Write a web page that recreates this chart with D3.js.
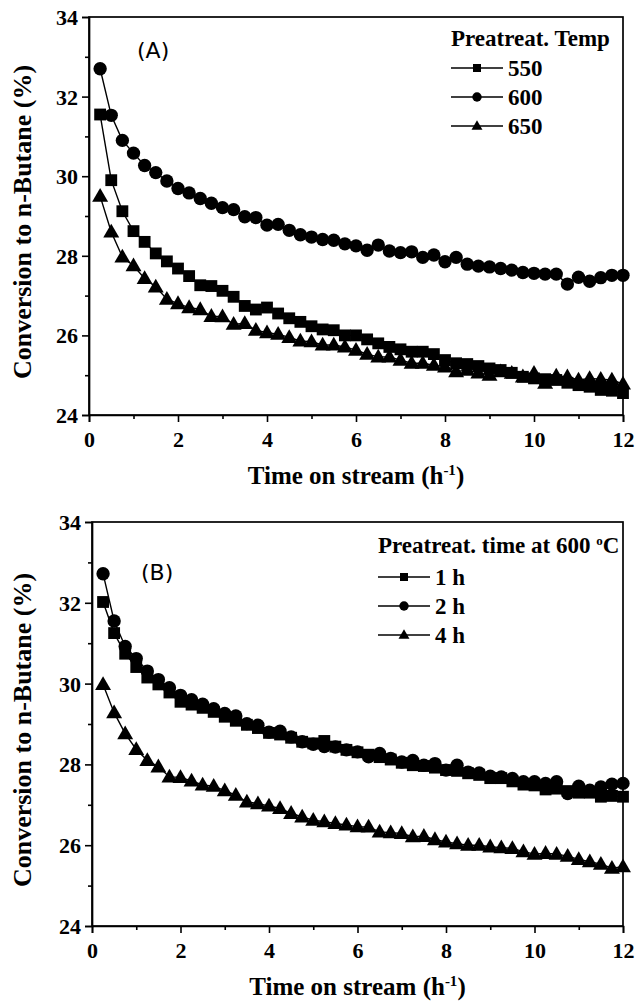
<!DOCTYPE html>
<html>
<head>
<meta charset="utf-8">
<script src="https://cdn.jsdelivr.net/npm/d3@7"></script>
<style>
  html, body { margin: 0; padding: 0; background: #fff; }
  svg { display: block; }
</style>
</head>
<body>
<svg id="chart" width="635" height="1004"></svg>
<script>
// ---------------- DATA ----------------
const timeH = [0.25, 0.5, 0.75, 1.0, 1.25, 1.5, 1.75, 2.0, 2.25, 2.5, 2.75, 3.0,
  3.25, 3.5, 3.75, 4.0, 4.25, 4.5, 4.75, 5.0, 5.25, 5.5, 5.75, 6.0,
  6.25, 6.5, 6.75, 7.0, 7.25, 7.5, 7.75, 8.0, 8.25, 8.5, 8.75, 9.0,
  9.25, 9.5, 9.75, 10.0, 10.25, 10.5, 10.75, 11.0, 11.25, 11.5, 11.75, 12.0];

// Panel A : pretreatment temperature
const temp550 = [31.55, 29.90, 29.12, 28.62, 28.35, 28.06, 27.86, 27.68, 27.49, 27.26, 27.24, 27.12,
  26.97, 26.74, 26.65, 26.70, 26.55, 26.43, 26.34, 26.23, 26.15, 26.13, 26.00, 26.00,
  25.90, 25.80, 25.71, 25.65, 25.59, 25.59, 25.53, 25.38, 25.30, 25.28, 25.23, 25.17,
  25.13, 25.06, 24.96, 24.92, 24.90, 24.88, 24.81, 24.75, 24.71, 24.63, 24.61, 24.55];
const temp600 = [32.70, 31.53, 30.90, 30.58, 30.27, 30.09, 29.88, 29.69, 29.58, 29.44, 29.32, 29.21,
  29.16, 28.98, 28.96, 28.77, 28.79, 28.64, 28.53, 28.47, 28.41, 28.39, 28.30, 28.25,
  28.14, 28.27, 28.12, 28.08, 28.10, 27.96, 28.02, 27.85, 27.96, 27.79, 27.74, 27.72,
  27.68, 27.64, 27.58, 27.56, 27.54, 27.54, 27.29, 27.46, 27.36, 27.45, 27.51, 27.51];
const temp650 = [29.50, 28.60, 27.97, 27.75, 27.43, 27.22, 26.91, 26.80, 26.70, 26.65, 26.48, 26.47,
  26.28, 26.30, 26.13, 26.07, 26.03, 25.95, 25.86, 25.84, 25.76, 25.76, 25.71, 25.63,
  25.53, 25.46, 25.46, 25.38, 25.30, 25.30, 25.25, 25.21, 25.09, 25.13, 25.06, 25.00,
  25.09, 25.05, 24.96, 25.05, 24.80, 24.98, 24.96, 24.88, 24.92, 24.90, 24.88, 24.78];

// Panel B : pretreatment time at 600 C
const time1h = [32.02, 31.25, 30.74, 30.41, 30.15, 29.98, 29.78, 29.55, 29.48, 29.40, 29.30, 29.18,
  29.08, 28.98, 28.90, 28.78, 28.74, 28.66, 28.56, 28.52, 28.58, 28.44, 28.36, 28.30,
  28.24, 28.18, 28.12, 28.04, 27.98, 27.96, 27.92, 27.86, 27.84, 27.78, 27.74, 27.66,
  27.66, 27.58, 27.50, 27.48, 27.38, 27.40, 27.34, 27.30, 27.30, 27.20, 27.22, 27.20];
const time2h = [32.72, 31.55, 30.92, 30.62, 30.31, 30.10, 29.90, 29.71, 29.60, 29.49, 29.38, 29.26,
  29.20, 29.01, 28.97, 28.80, 28.82, 28.68, 28.56, 28.50, 28.44, 28.43, 28.36, 28.31,
  28.19, 28.27, 28.15, 28.06, 28.10, 27.98, 28.02, 27.86, 27.98, 27.81, 27.79, 27.71,
  27.69, 27.65, 27.57, 27.57, 27.53, 27.57, 27.28, 27.46, 27.36, 27.44, 27.51, 27.53];
const time4h = [29.98, 29.28, 28.76, 28.37, 28.10, 27.94, 27.69, 27.68, 27.59, 27.49, 27.46, 27.35,
  27.24, 27.07, 27.03, 26.97, 26.91, 26.79, 26.70, 26.62, 26.58, 26.54, 26.50, 26.46,
  26.45, 26.33, 26.31, 26.29, 26.21, 26.22, 26.14, 26.08, 26.04, 26.00, 26.00, 25.96,
  25.94, 25.92, 25.84, 25.78, 25.80, 25.78, 25.73, 25.65, 25.59, 25.53, 25.43, 25.47];

const labelsA = ["550", "600", "650"];
const labelsB = ["1 h", "2 h", "4 h"];
const xTickValues = [0, 2, 4, 6, 8, 10, 12];
const yTickValues = [24, 26, 28, 30, 32, 34];
const xDomain = [0, 12];
const yDomain = [24, 34];

// ---------------- DRAWING ----------------
const svg = d3.select("#chart");
const SERIF = "'Liberation Serif', 'Times New Roman', serif";
const SANS = "'DejaVu Sans', Verdana, sans-serif";
const shapes = [d3.symbolSquare, d3.symbolCircle, d3.symbolTriangle];
const shapeSize = [140, 140, 110];
const legendSize = [64, 70, 52];

function drawPanel(cfg) {
  const g = svg.append("g");
  const x = d3.scaleLinear().domain(xDomain).range([cfg.left, cfg.right]);
  const y = d3.scaleLinear().domain(yDomain).range([cfg.bottom, cfg.top]);

  // frame
  g.append("rect")
    .attr("x", cfg.left).attr("y", cfg.top)
    .attr("width", cfg.right - cfg.left).attr("height", cfg.bottom - cfg.top)
    .attr("fill", "none").attr("stroke", "#000").attr("stroke-width", 1.7);

  // minor ticks
  const xMinor = g.append("g").attr("transform", `translate(0,${cfg.bottom})`)
    .call(d3.axisBottom(x).tickValues(d3.range(1, 12, 2)).tickSize(4).tickFormat(""));
  const yMinor = g.append("g").attr("transform", `translate(${cfg.left},0)`)
    .call(d3.axisLeft(y).tickValues(d3.range(25, 34, 2)).tickSize(4).tickFormat(""));
  [xMinor, yMinor].forEach(a => { a.select(".domain").remove(); a.selectAll("line").attr("stroke-width", 1.6); });

  // major axes
  const xAx = g.append("g").attr("transform", `translate(0,${cfg.bottom})`)
    .call(d3.axisBottom(x).tickValues(xTickValues).tickSize(7).tickPadding(5).tickFormat(d3.format("d")));
  const yAx = g.append("g").attr("transform", `translate(${cfg.left},0)`)
    .call(d3.axisLeft(y).tickValues(yTickValues).tickSize(7).tickPadding(4).tickFormat(d3.format("d")));
  [xAx, yAx].forEach(a => {
    a.select(".domain").attr("stroke-width", 1.7);
    a.selectAll("line").attr("stroke-width", 1.6);
    a.selectAll("text").attr("font-family", SERIF).attr("font-weight", "bold")
      .attr("font-size", 22).attr("fill", "#000");
  });
  xAx.selectAll("text").attr("dy", "0.9em");
  yAx.selectAll("text").attr("dy", "0.34em");

  // series
  const line = d3.line().x((d, i) => x(timeH[i])).y(d => y(d));
  cfg.series.forEach((s, k) => {
    g.append("path").datum(s).attr("d", line)
      .attr("fill", "none").attr("stroke", "#000").attr("stroke-width", 1.4);
  });
  cfg.series.forEach((s, k) => {
    const sym = d3.symbol().type(shapes[k]).size(shapeSize[k]);
    g.append("g").selectAll("path").data(s).join("path")
      .attr("transform", (d, i) => `translate(${x(timeH[i])},${y(d) + (k === 2 ? 1 : 0)})`)
      .attr("d", sym).attr("fill", "#000");
  });

  // panel label
  g.append("text").attr("x", cfg.tagX).attr("y", cfg.tagY)
    .attr("font-family", SANS).attr("font-size", 22).attr("fill", "#000")
    .text(cfg.tag);

  // axis titles
  const xt = g.append("text")
    .attr("x", (cfg.left + cfg.right) / 2).attr("y", cfg.bottom + 69)
    .attr("text-anchor", "middle").attr("font-family", SERIF)
    .attr("font-weight", "bold").attr("font-size", 25).attr("fill", "#000");
  xt.append("tspan").text("Time on stream (h");
  xt.append("tspan").attr("dy", -9).attr("font-size", 15).text("-1");
  xt.append("tspan").attr("dy", 9).text(")");

  g.append("text")
    .attr("transform", `translate(31,${(cfg.top + cfg.bottom) / 2 + 6}) rotate(-90)`)
    .attr("text-anchor", "middle").attr("font-family", SERIF)
    .attr("font-weight", "bold").attr("font-size", 26).attr("fill", "#000")
    .text("Conversion to n-Butane (%)");

  // legend
  const lg = g.append("g");
  const lt = lg.append("text").attr("x", cfg.legX).attr("y", cfg.legTitleY)
    .attr("font-family", SERIF).attr("font-weight", "bold").attr("font-size", 23).attr("fill", "#000");
  cfg.legTitle(lt);
  cfg.labels.forEach((lab, k) => {
    const yy = cfg.legRowY + k * cfg.legStep;
    lg.append("line").attr("x1", cfg.legX).attr("x2", cfg.legX + 52)
      .attr("y1", yy).attr("y2", yy).attr("stroke", "#000").attr("stroke-width", 1.7);
    lg.append("path").attr("transform", `translate(${cfg.legX + 26},${yy + (k === 2 ? 0.5 : 0)})`)
      .attr("d", d3.symbol().type(shapes[k]).size(legendSize[k])).attr("fill", "#000");
    lg.append("text").attr("x", cfg.legX + 57).attr("y", yy + 7.5)
      .attr("font-family", SERIF).attr("font-weight", "bold").attr("font-size", 23).attr("fill", "#000")
      .text(lab);
  });
}

drawPanel({
  left: 89, right: 623, top: 17, bottom: 415,
  series: [temp550, temp600, temp650],
  labels: labelsA,
  tag: "(A)", tagX: 137, tagY: 58,
  legX: 451, legTitleY: 46, legRowY: 68, legStep: 29,
  legTitle: t => t.text("Preatreat. Temp")
});

drawPanel({
  left: 92, right: 623, top: 522, bottom: 926,
  series: [time1h, time2h, time4h],
  labels: labelsB,
  tag: "(B)", tagX: 141, tagY: 580,
  legX: 378, legTitleY: 553, legRowY: 577, legStep: 29,
  legTitle: t => {
    t.append("tspan").text("Preatreat. time at 600 ");
    t.append("tspan").attr("dy", -8).attr("font-size", 13).text("o");
    t.append("tspan").attr("dy", 8).text("C");
  }
});
</script>
</body>
</html>
